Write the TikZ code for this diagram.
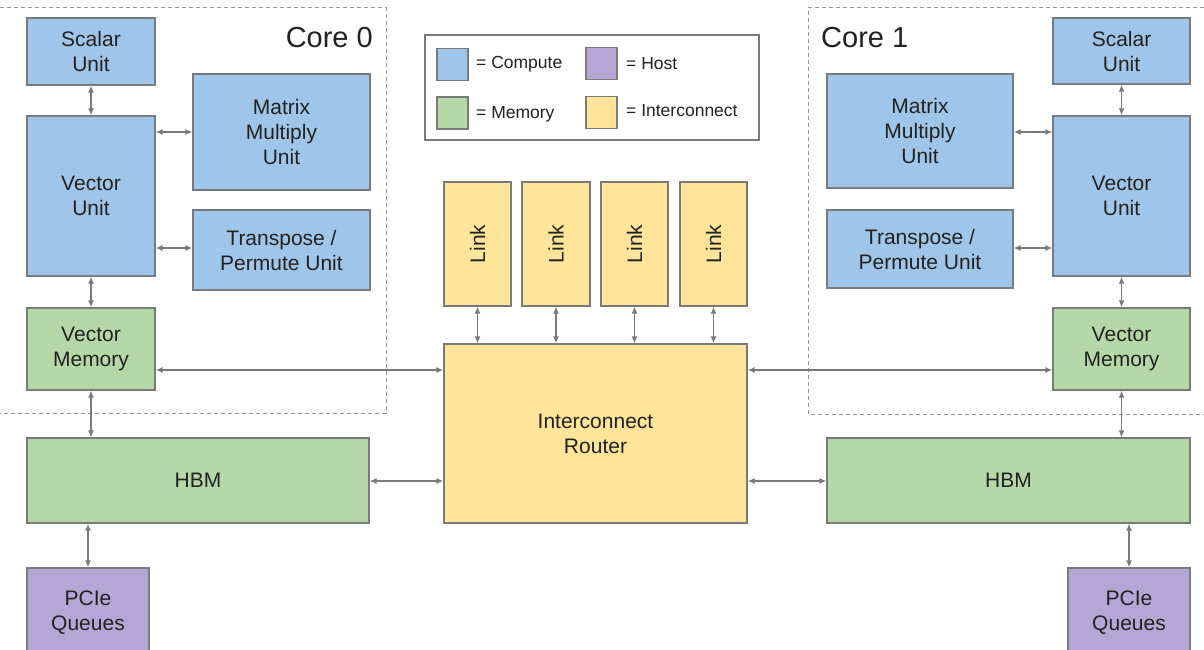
\documentclass[tikz,border=0pt]{standalone}
\usepackage{fontspec}
\setmainfont{Liberation Sans}
\usetikzlibrary{arrows.meta}
\definecolor{cblue}{HTML}{9FC5E8}
\definecolor{cgreen}{HTML}{B6D7A8}
\definecolor{cpurple}{HTML}{B4A7D6}
\definecolor{cyellow}{HTML}{FFE599}
\definecolor{cedge}{HTML}{7A7A7A}
\definecolor{cline}{HTML}{7A7A7A}
\definecolor{ctext}{HTML}{222222}
\tikzset{
  box/.style={draw=cedge, line width=1.3pt, rectangle, inner sep=0pt, align=center,
    text=ctext, font=\fontsize{21}{25}\selectfont},
  compute/.style={box, fill=cblue},
  memory/.style={box, fill=cgreen},
  host/.style={box, fill=cpurple},
  inter/.style={box, fill=cyellow},
  conn/.style={draw=cline, line width=1.3pt,
    {Latex[length=7pt,width=6pt]}-{Latex[length=7pt,width=6pt]}},
  corebox/.style={draw=cline!80, line width=1pt, dash pattern=on 4pt off 3pt},
  swatch/.style={draw=cedge, line width=1.3pt, minimum width=31pt, minimum height=32pt, inner sep=0pt},
  legtext/.style={anchor=west, text=ctext, font=\fontsize{17.5}{20}\selectfont, inner sep=0pt},
  corelabel/.style={text=ctext, font=\fontsize{29}{33}\selectfont, inner sep=0pt}
}
\begin{document}
\begin{tikzpicture}[x=1pt,y=-1pt]
\path[use as bounding box, clip] (0,0) rectangle (1204,650);
\fill[white] (0,0) rectangle (1204,650);

% core dashed regions
\draw[corebox] (0,8) -- (386,8) -- (386,413) -- (0,413);
\draw[corebox] (1204,8) -- (808,8) -- (808,414) -- (1204,414);
\node[corelabel, anchor=east] (core0) at (373,37.5) {Core 0};
\node[corelabel, anchor=west] (core1) at (821,37.5) {Core 1};

% legend
\node[draw=cedge, line width=1.3pt, minimum width=334pt, minimum height=105pt, inner sep=0pt] (legend) at (592,87.5) {};
\node[swatch, fill=cblue] (lc) at (452.5,64.5) {};
\node[swatch, fill=cgreen] (lm) at (452.5,113) {};
\node[swatch, fill=cpurple] (lh) at (601.5,63.5) {};
\node[swatch, fill=cyellow] (li) at (601.5,112.5) {};
\node[legtext] (tc) at (476,64) {= Compute};
\node[legtext] (tm) at (476,114) {= Memory};
\node[legtext] (th) at (626,64) {= Host};
\node[legtext] (ti) at (626,111) {= Interconnect};

% core 0
\node[compute, minimum width=128pt, minimum height=67pt] (sc0) at (91,51.5) {Scalar\\Unit};
\node[compute, minimum width=128pt, minimum height=160pt] (vu0) at (91,196) {Vector\\Unit};
\node[compute, minimum width=177pt, minimum height=116pt] (mm0) at (281.5,132) {Matrix\\Multiply\\Unit};
\node[compute, minimum width=177pt, minimum height=80pt] (tp0) at (281.5,250) {Transpose /\\Permute Unit};
\node[memory, minimum width=128pt, minimum height=82pt] (vm0) at (91,349) {Vector\\Memory};
\node[memory, minimum width=342pt, minimum height=85pt] (hbm0) at (198,480.5) {HBM};
\node[host, minimum width=122pt, minimum height=90pt] (pc0) at (88,613) {PCIe\\Queues};

% core 1
\node[compute, minimum width=137pt, minimum height=66pt] (sc1) at (1121.5,51) {Scalar\\Unit};
\node[compute, minimum width=137pt, minimum height=160pt] (vu1) at (1121.5,196) {Vector\\Unit};
\node[compute, minimum width=186pt, minimum height=114pt] (mm1) at (920,131) {Matrix\\Multiply\\Unit};
\node[compute, minimum width=186pt, minimum height=78pt] (tp1) at (920,249) {Transpose /\\Permute Unit};
\node[memory, minimum width=137pt, minimum height=82pt] (vm1) at (1121.5,349) {Vector\\Memory};
\node[memory, minimum width=363pt, minimum height=85pt] (hbm1) at (1008.5,480.5) {HBM};
\node[host, minimum width=122pt, minimum height=90pt] (pc1) at (1129,613) {PCIe\\Queues};

% interconnect
\node[inter, minimum width=67pt, minimum height=124pt] (l1) at (477.5,244) {\rotatebox{90}{Link}};
\node[inter, minimum width=68pt, minimum height=124pt] (l2) at (556,244) {\rotatebox{90}{Link}};
\node[inter, minimum width=67pt, minimum height=124pt] (l3) at (634.5,244) {\rotatebox{90}{Link}};
\node[inter, minimum width=67pt, minimum height=124pt] (l4) at (713.5,244) {\rotatebox{90}{Link}};
\node[inter, minimum width=303pt, minimum height=179pt] (rt) at (595.5,433.5) {Interconnect\\Router};

% connectors core 0
\draw[conn] (sc0.south) -- (vu0.north);
\draw[conn] (vu0.east |- 0,132) -- (mm0.west |- 0,132);
\draw[conn] (vu0.east |- 0,248) -- (tp0.west |- 0,248);
\draw[conn] (vu0.south) -- (vm0.north);
\draw[conn] (vm0.south) -- (hbm0.north -| vm0.south);
\draw[conn] (hbm0.south -| pc0.north) -- (pc0.north);
\draw[conn] (vm0.east |- 0,370) -- (rt.west |- 0,370);
\draw[conn] (hbm0.east |- 0,481) -- (rt.west |- 0,481);

% connectors core 1
\draw[conn] (sc1.south) -- (vu1.north);
\draw[conn] (mm1.east |- 0,132) -- (vu1.west |- 0,132);
\draw[conn] (tp1.east |- 0,248) -- (vu1.west |- 0,248);
\draw[conn] (vu1.south) -- (vm1.north);
\draw[conn] (vm1.south) -- (hbm1.north -| vm1.south);
\draw[conn] (hbm1.south -| pc1.north) -- (pc1.north);
\draw[conn] (rt.east |- 0,370) -- (vm1.west |- 0,370);
\draw[conn] (rt.east |- 0,481) -- (hbm1.west |- 0,481);

% links
\draw[conn] (l1.south) -- (rt.north -| l1.south);
\draw[conn] (l2.south) -- (rt.north -| l2.south);
\draw[conn] (l3.south) -- (rt.north -| l3.south);
\draw[conn] (l4.south) -- (rt.north -| l4.south);
\end{tikzpicture}
\end{document}
